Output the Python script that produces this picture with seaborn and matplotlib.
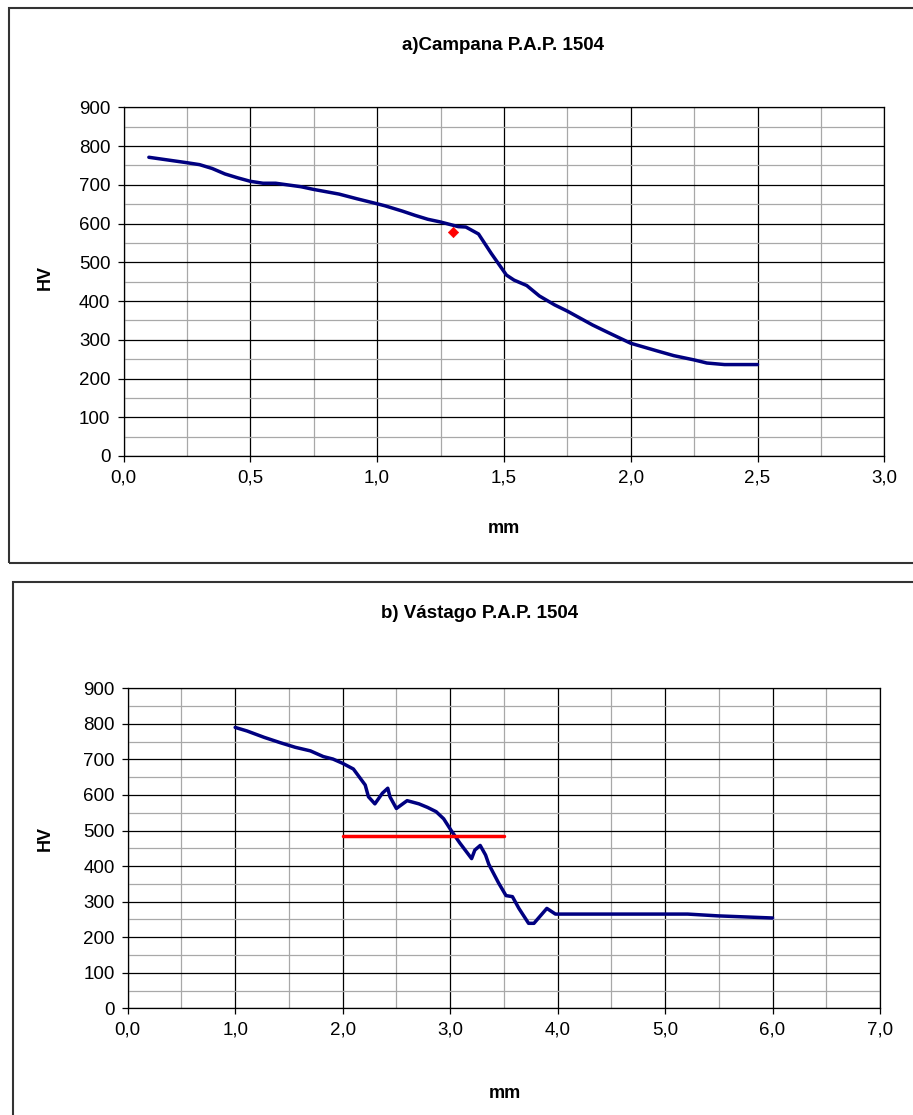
import matplotlib
matplotlib.use("Agg")
import matplotlib.pyplot as plt
from matplotlib.ticker import MultipleLocator, FuncFormatter
from matplotlib.patches import Rectangle
import seaborn as sns
import pandas as pd

# ---------------- data ----------------
campana_mm = [0.1, 0.25, 0.3, 0.35, 0.4, 0.45, 0.5, 0.55, 0.6, 0.7, 0.75, 0.85, 0.92,
              1.0, 1.03, 1.1, 1.15, 1.2, 1.25, 1.32, 1.35, 1.4, 1.45, 1.51, 1.54, 1.59,
              1.64, 1.7, 1.75, 1.85, 1.91, 2.0, 2.1, 2.17, 2.25, 2.3, 2.37, 2.5]
campana_hv = [771, 757, 752, 742, 728, 718, 709, 704, 704, 695, 688, 676, 664,
              651, 646, 632, 621, 611, 604, 592, 591, 573, 523, 467, 454, 440,
              413, 390, 374, 338, 319, 291, 272, 259, 248, 240, 236, 236]
campana_point_mm = [1.3]
campana_point_hv = [577]

vastago_mm = [1.0, 1.11, 1.27, 1.42, 1.56, 1.7, 1.82, 1.91, 2.0, 2.1, 2.21, 2.24, 2.3,
              2.37, 2.42, 2.44, 2.5, 2.6, 2.71, 2.79, 2.87, 2.94, 3.01, 3.09, 3.2, 3.23,
              3.28, 3.33, 3.36, 3.45, 3.52, 3.58, 3.64, 3.73, 3.78, 3.9, 3.98, 5.21, 5.49, 6.0]
vastago_hv = [790, 780, 762, 747, 734, 724, 708, 701, 689, 673, 628, 595, 575,
              605, 619, 595, 562, 584, 575, 565, 553, 533, 500, 465, 421, 445,
              458, 431, 405, 353, 317, 314, 281, 239, 239, 281, 265, 265, 260, 254]
vastago_ref_mm = [2.0, 3.5]
vastago_ref_hv = [485, 485]

title_a = "a)Campana P.A.P. 1504"
title_b = "b) Vástago P.A.P. 1504"
x_label = "mm"
y_label = "HV"

# ---------------- style ----------------
sns.set_style("white")
plt.rcParams['font.family'] = ['Liberation Sans', 'DejaVu Sans']
plt.rcParams['text.color'] = 'black'
plt.rcParams['axes.labelcolor'] = 'black'
plt.rcParams['xtick.color'] = 'black'
plt.rcParams['ytick.color'] = 'black'

W, H = 913, 1115
fig = plt.figure(figsize=(W / 100, H / 100), dpi=100)


def pos(l, r, t, b):
    return [l / W, 1 - b / H, (r - l) / W, (b - t) / H]


# outer frames (chart areas)
fig.patches.append(Rectangle((9 / W, 1 - 563 / H), 1.2, (563 - 8) / H,
                             transform=fig.transFigure, fill=False,
                             edgecolor='#333333', linewidth=1.5, clip_on=False))
fig.patches.append(Rectangle((13 / W, -0.2), 1.2, 0.2 + (1115 - 582) / H,
                             transform=fig.transFigure, fill=False,
                             edgecolor='#333333', linewidth=1.5, clip_on=False))

navy = '#000080'
comma_fmt = FuncFormatter(lambda v, p: f"{v:.1f}".replace('.', ','))
tick_fs = 13.5


def style_axes(ax, xmax, xmajor, xminor):
    ax.set_xlim(0, xmax)
    ax.set_ylim(0, 900)
    ax.xaxis.set_major_locator(MultipleLocator(xmajor))
    ax.xaxis.set_minor_locator(MultipleLocator(xminor))
    ax.yaxis.set_major_locator(MultipleLocator(100))
    ax.yaxis.set_minor_locator(MultipleLocator(50))
    ax.xaxis.set_major_formatter(comma_fmt)
    ax.set_axisbelow(True)
    ax.grid(which='minor', color='#a8a8a8', linewidth=0.9)
    ax.grid(which='major', color='#000000', linewidth=0.9)
    ax.tick_params(which='major', direction='out', length=4.5, width=0.9,
                   color='black', labelcolor='black', labelsize=tick_fs, pad=5,
                   bottom=True, left=True)
    ax.tick_params(which='minor', length=0)
    for s in ax.spines.values():
        s.set_color('black')
        s.set_linewidth(0.9)


# ---------------- chart a ----------------
ax1 = fig.add_axes(pos(123.5, 884.3, 107.3, 456))
df_a = pd.DataFrame({"mm": campana_mm, "HV": campana_hv})
sns.lineplot(data=df_a, x="mm", y="HV", ax=ax1, color=navy, linewidth=2.5,
             sort=False, estimator=None)
df_pa = pd.DataFrame({"mm": campana_point_mm, "HV": campana_point_hv})
sns.scatterplot(data=df_pa, x="mm", y="HV", ax=ax1, color='#ff0000', marker='D',
                s=28, edgecolor='#ff0000', zorder=5)
style_axes(ax1, 3.0, 0.5, 0.25)
ax1.set_xlabel(x_label, fontsize=13, fontweight='bold', va='center', color='black')
ax1.set_ylabel(y_label, fontsize=13, fontweight='bold', va='center', color='black')
ax1.xaxis.set_label_coords(0.5, -0.2065)
ax1.yaxis.set_label_coords(-0.103, 0.513)
fig.text(503 / W, 1 - 45 / H, title_a, ha='center', va='center',
         fontsize=13.5, fontweight='bold', color='black')

# ---------------- chart b ----------------
ax2 = fig.add_axes(pos(127.7, 880, 688.3, 1008.3))
df_b = pd.DataFrame({"mm": vastago_mm, "HV": vastago_hv})
sns.lineplot(data=df_b, x="mm", y="HV", ax=ax2, color=navy, linewidth=2.5,
             sort=False, estimator=None)
df_rb = pd.DataFrame({"mm": vastago_ref_mm, "HV": vastago_ref_hv})
sns.lineplot(data=df_rb, x="mm", y="HV", ax=ax2, color='#ff0000', linewidth=2.5,
             sort=False, estimator=None)
style_axes(ax2, 7.0, 1.0, 0.5)
ax2.set_xlabel(x_label, fontsize=13, fontweight='bold', va='center', color='black')
ax2.set_ylabel(y_label, fontsize=13, fontweight='bold', va='center', color='black')
ax2.xaxis.set_label_coords(0.5015, -0.2647)
ax2.yaxis.set_label_coords(-0.110, 0.532)
fig.text(480 / W, 1 - 613 / H, title_b, ha='center', va='center',
         fontsize=13.5, fontweight='bold', color='black')

fig.savefig("out.png", dpi=100)
